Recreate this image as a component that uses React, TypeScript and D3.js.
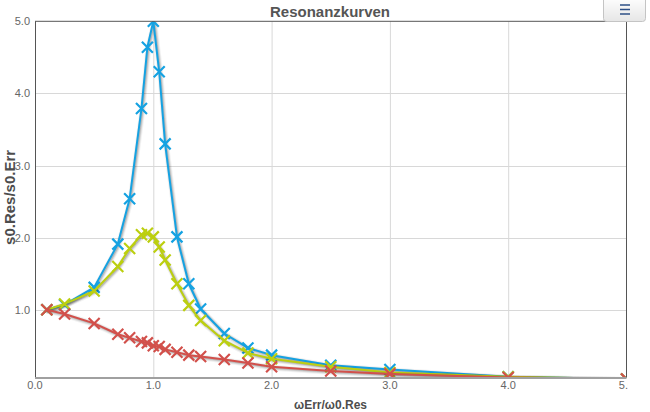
import React from "react";
import * as d3 from "d3";

const xValues = [0.1, 0.25, 0.5, 0.7, 0.8, 0.9, 0.95, 1.0, 1.05, 1.1, 1.2, 1.3, 1.4, 1.6, 1.8, 2.0, 2.5, 3.0, 4.0, 5.0];
const blueValues = [1.0, 1.07, 1.31, 1.91, 2.54, 3.79, 4.64, 5.0, 4.3, 3.3, 2.01, 1.36, 1.01, 0.67, 0.47, 0.37, 0.23, 0.17, 0.07, 0.04];
const greenValues = [1.0, 1.08, 1.26, 1.6, 1.85, 2.04, 2.06, 2.01, 1.87, 1.69, 1.36, 1.06, 0.85, 0.57, 0.4, 0.32, 0.21, 0.13, 0.07, 0.04];
const redValues = [1.0, 0.94, 0.81, 0.66, 0.61, 0.56, 0.54, 0.5, 0.49, 0.45, 0.41, 0.37, 0.35, 0.31, 0.26, 0.21, 0.15, 0.11, 0.06, 0.04];
const xTicks = [0, 1, 2, 3, 4, 5];
const yTicks = [1, 2, 3, 4, 5];
const seriesList = [
  { name: "blue", values: blueValues, color: "#15a2e2" },
  { name: "green", values: greenValues, color: "#bccf10" },
  { name: "red", values: redValues, color: "#d2504b" },
];

const W = 650;
const H = 412;
const L = 35;
const R = 626.5;
const T = 21.3;
const B = 377.5;
const FONT = "'Liberation Sans', Arial, sans-serif";

export default function App() {
  const x = d3.scaleLinear().domain([0, 5]).range([L, R]);
  const y = d3.scaleLinear().domain([0.06, 5]).range([B, T]);
  const line = d3
    .line<number>()
    .x((_, i) => x(xValues[i]))
    .y((d) => y(d));
  const m = 5.5;

  return (
    <svg
      width={W}
      height={H}
      style={{ position: "absolute", left: 0, top: 0, fontFamily: FONT }}
    >
      <defs>
        <clipPath id="plotClip">
          <rect x={L} y={T} width={R - L} height={B - T} />
        </clipPath>
        <clipPath id="labelClip">
          <rect x={0} y={0} width={628} height={H} />
        </clipPath>
        <linearGradient id="btnGrad" x1="0" y1="0" x2="0" y2="1">
          <stop offset="0" stopColor="#ffffff" />
          <stop offset="1" stopColor="#e6e6e6" />
        </linearGradient>
      </defs>
      <rect x={0} y={0} width={W} height={H} fill="#ffffff" />

      {/* grid */}
      {xTicks.slice(1, -1).map((t) => (
        <line key={"gx" + t} x1={x(t) + 0.5} x2={x(t) + 0.5} y1={T} y2={B} stroke="#d8d8d8" strokeWidth={1} />
      ))}
      {yTicks.slice(0, -1).map((t) => (
        <line key={"gy" + t} x1={L} x2={R} y1={Math.round(y(t)) + 0.5} y2={Math.round(y(t)) + 0.5} stroke="#d8d8d8" strokeWidth={1} />
      ))}

      {/* series */}
      <g clipPath="url(#plotClip)">
        {seriesList.map((s) => {
          const d = line(s.values) || "";
          return (
            <g key={s.name}>
              <g transform="translate(1,1)" fill="none" stroke="#000" strokeLinejoin="round" strokeLinecap="round">
                <path d={d} strokeOpacity={0.05} strokeWidth={6} />
                <path d={d} strokeOpacity={0.1} strokeWidth={4} />
                <path d={d} strokeOpacity={0.15} strokeWidth={2} />
              </g>
              <path d={d} fill="none" stroke={s.color} strokeWidth={2} strokeLinejoin="round" />
              {s.values.map((v, i) => {
                const cx = x(xValues[i]);
                const cy = y(v);
                return (
                  <path
                    key={i}
                    d={`M${cx - m},${cy - m}L${cx + m},${cy + m}M${cx - m},${cy + m}L${cx + m},${cy - m}`}
                    stroke={s.color}
                    strokeWidth={2.2}
                    fill="none"
                  />
                );
              })}
            </g>
          );
        })}
      </g>

      {/* frame */}
      <line x1={L + 0.5} x2={L + 0.5} y1={T} y2={B} stroke="#555" strokeWidth={1} />
      <line x1={L} x2={R} y1={T} y2={T} stroke="#555" strokeWidth={1} />
      <line x1={R} x2={R} y1={T} y2={B} stroke="#555" strokeWidth={1} />
      <line x1={L} x2={R} y1={B + 0.5} y2={B + 0.5} stroke="#a0a0a0" strokeWidth={2} />

      {/* y labels */}
      {yTicks.map((t) => (
        <text key={"yl" + t} x={30} y={y(t) + 4} textAnchor="end" fontSize={11} fill="#666">
          {t.toFixed(1)}
        </text>
      ))}
      {/* x labels */}
      <g clipPath="url(#labelClip)">
        {xTicks.map((t) => (
          <text key={"xl" + t} x={x(t)} y={389} textAnchor="middle" fontSize={11} fill="#666">
            {t.toFixed(1)}
          </text>
        ))}
      </g>

      {/* titles */}
      <text x={330} y={17} textAnchor="middle" fontSize={15} fontWeight="bold" fill="#555">
        Resonanzkurven
      </text>
      <text x={330.5} y={409} textAnchor="middle" fontSize={12} fontWeight="bold" fill="#4d4d4d">
        ωErr/ω0.Res
      </text>
      <text
        transform={`translate(14.5,${(T + B) / 2 - 2}) rotate(-90)`}
        textAnchor="middle"
        fontSize={15}
        fontWeight="bold"
        fill="#4d4d4d"
      >
        s0.Res/s0.Err
      </text>

      {/* menu button */}
      <rect x={603.5} y={-3.5} width={42} height={25} rx={3} fill="url(#btnGrad)" stroke="#c4c4c4" strokeWidth={1} />
      {[5, 9.5, 14].map((yy) => (
        <line key={yy} x1={620} x2={630} y1={yy} y2={yy} stroke="#2d4f86" strokeWidth={1.5} />
      ))}
    </svg>
  );
}
